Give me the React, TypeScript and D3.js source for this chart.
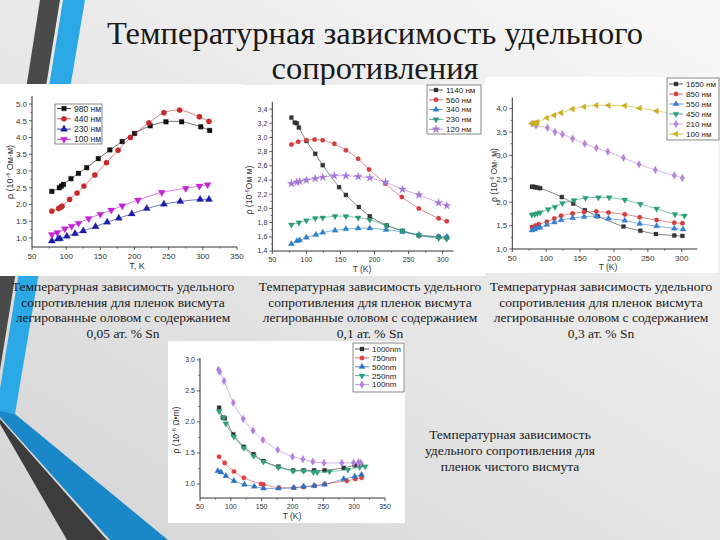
import React from 'react';
import * as d3 from 'd3';

// ---------- Titles / captions ----------
const titleLines = ['Температурная зависимость удельного', 'сопротивления'];
const caption1 = ['Температурная зависимость удельного', 'сопротивления для пленок висмута', 'легированные оловом с содержанием', '0,05 ат. % Sn'];
const caption2 = ['Температурная зависимость удельного', 'сопротивления для пленок висмута', 'легированные оловом с содержанием', '0,1 ат. % Sn'];
const caption3 = ['Температурная зависимость удельного', 'сопротивления для пленок висмута', 'легированные оловом с содержанием', '0,3 ат. % Sn'];
const caption4 = ['Температурная зависимость', 'удельного сопротивления для', 'пленок чистого висмута'];

// ---------- Chart 1: 0.05 at.% Sn ----------
const c1XTicks = [50, 100, 150, 200, 250, 300, 350];
const c1YTicks = [1.0, 1.5, 2.0, 2.5, 3.0, 3.5, 4.0, 4.5, 5.0];
const c1_980_T = [79, 90, 93, 96, 107, 118, 130, 147, 164, 182, 200, 223, 246, 269, 297, 310];
const c1_980_R = [2.39, 2.5, 2.55, 2.6, 2.77, 2.93, 3.1, 3.37, 3.63, 3.88, 4.12, 4.35, 4.47, 4.47, 4.32, 4.21];
const c1_440_T = [79, 89, 92, 94, 105, 116, 126, 142, 159, 176, 194, 221, 243, 266, 295, 309];
const c1_440_R = [1.8, 1.88, 1.92, 1.95, 2.15, 2.34, 2.55, 2.88, 3.25, 3.62, 4.0, 4.44, 4.74, 4.82, 4.62, 4.48];
const c1_230_T = [79, 88, 91, 101, 113, 125, 143, 160, 177, 196, 218, 243, 267, 296, 309];
const c1_230_R = [0.91, 0.97, 0.98, 1.05, 1.13, 1.21, 1.34, 1.47, 1.59, 1.72, 1.88, 2.01, 2.09, 2.15, 2.15];
const c1_100_T = [79, 87, 98, 108, 118, 133, 150, 166, 182, 205, 240, 275, 295, 307];
const c1_100_R = [1.1, 1.16, 1.27, 1.35, 1.44, 1.58, 1.71, 1.83, 1.96, 2.13, 2.36, 2.48, 2.55, 2.59];

// ---------- Chart 2: 0.1 at.% Sn ----------
const c2XTicks = [50, 100, 150, 200, 250, 300];
const c2YTicks = [1.4, 1.6, 1.8, 2.0, 2.2, 2.4, 2.6, 2.8, 3.0, 3.2, 3.4];
const c2_1140_T = [78, 83, 86, 89, 100, 113, 124, 148, 158, 177, 193, 218, 241, 265, 294, 306];
const c2_1140_R = [3.28, 3.21, 3.2, 3.14, 2.95, 2.77, 2.61, 2.3, 2.19, 2.02, 1.89, 1.76, 1.68, 1.62, 1.6, 1.59];
const c2_560_T = [78, 88, 100, 112, 124, 141, 158, 176, 192, 216, 240, 265, 294, 306];
const c2_560_R = [2.9, 2.94, 2.96, 2.97, 2.96, 2.91, 2.82, 2.7, 2.55, 2.35, 2.16, 2.0, 1.86, 1.82];
const c2_340_T = [78, 86, 90, 100, 114, 124, 142, 158, 176, 193, 217, 241, 265, 294, 306];
const c2_340_R = [1.5, 1.54, 1.55, 1.59, 1.63, 1.66, 1.69, 1.71, 1.72, 1.72, 1.7, 1.67, 1.63, 1.6, 1.6];
const c2_230_T = [78, 89, 100, 113, 124, 142, 158, 176, 193, 217, 241, 265, 294, 306];
const c2_230_R = [1.77, 1.8, 1.83, 1.86, 1.87, 1.89, 1.89, 1.87, 1.84, 1.76, 1.69, 1.62, 1.58, 1.57];
const c2_120_T = [78, 86, 90, 100, 113, 124, 141, 158, 176, 193, 216, 241, 265, 294, 306];
const c2_120_R = [2.35, 2.37, 2.38, 2.4, 2.42, 2.44, 2.46, 2.46, 2.45, 2.43, 2.37, 2.27, 2.19, 2.08, 2.04];

// ---------- Chart 3: 0.3 at.% Sn ----------
const c3XTicks = [50, 100, 150, 200, 250, 300];
const c3YTicks = [1.0, 1.5, 2.0, 2.5, 3.0, 3.5, 4.0];
const c3_1650_T = [79, 81, 84, 87, 91, 123, 140, 157, 176, 214, 239, 262, 289, 301];
const c3_1650_R = [2.33, 2.33, 2.32, 2.31, 2.3, 2.11, 1.97, 1.83, 1.7, 1.48, 1.39, 1.32, 1.29, 1.28];
const c3_850_T = [79, 84, 89, 101, 112, 122, 139, 156, 174, 192, 216, 238, 263, 289, 301];
const c3_850_R = [1.47, 1.5, 1.53, 1.58, 1.65, 1.71, 1.76, 1.79, 1.8, 1.78, 1.74, 1.68, 1.62, 1.56, 1.55];
const c3_550_T = [79, 83, 87, 91, 101, 112, 122, 139, 156, 174, 192, 216, 238, 263, 289, 302];
const c3_550_R = [1.4, 1.42, 1.45, 1.46, 1.52, 1.57, 1.62, 1.66, 1.69, 1.7, 1.65, 1.61, 1.54, 1.49, 1.44, 1.42];
const c3_450_T = [79, 83, 87, 91, 103, 113, 124, 141, 158, 177, 193, 216, 239, 263, 290, 304];
const c3_450_R = [1.73, 1.74, 1.76, 1.78, 1.85, 1.9, 1.98, 2.04, 2.09, 2.1, 2.1, 2.05, 1.96, 1.86, 1.74, 1.71];
const c3_210_T = [79, 85, 102, 113, 124, 139, 157, 174, 191, 214, 237, 261, 289, 301];
const c3_210_R = [3.68, 3.64, 3.59, 3.5, 3.45, 3.36, 3.25, 3.16, 3.08, 2.95, 2.81, 2.69, 2.57, 2.52];
const c3_100_T = [79, 82, 84, 87, 101, 112, 122, 139, 156, 174, 192, 216, 238, 263, 286, 300];
const c3_100_R = [3.68, 3.69, 3.7, 3.71, 3.8, 3.86, 3.91, 3.99, 4.04, 4.07, 4.07, 4.06, 4.01, 3.95, 3.9, 3.86];

// ---------- Chart 4: pure Bi ----------
const c4XTicks = [50, 100, 150, 200, 250, 300, 350];
const c4YTicks = [1.0, 1.5, 2.0, 2.5, 3.0];
const c4_1000_T = [81, 87, 90, 104, 121, 137, 153, 177, 201, 218, 235, 252, 283, 301, 311];
const c4_1000_R = [2.23, 2.07, 2.06, 1.8, 1.6, 1.48, 1.37, 1.28, 1.22, 1.22, 1.22, 1.22, 1.26, 1.3, 1.31];
const c4_750_T = [81, 90, 105, 121, 149, 153, 178, 202, 218, 236, 252, 288, 302, 312];
const c4_750_R = [1.44, 1.34, 1.2, 1.1, 1.0, 0.99, 0.94, 0.94, 0.95, 0.97, 1.0, 1.05, 1.08, 1.1];
const c4_500_T = [79, 84, 92, 105, 122, 138, 153, 177, 202, 218, 235, 252, 283, 301, 312];
const c4_500_R = [1.21, 1.19, 1.13, 1.05, 0.99, 0.96, 0.93, 0.93, 0.94, 0.96, 0.97, 0.99, 1.08, 1.12, 1.15];
const c4_250_T = [81, 88, 92, 105, 121, 137, 153, 177, 201, 218, 234, 240, 260, 290, 309, 318];
const c4_250_R = [2.17, 2.07, 1.97, 1.76, 1.58, 1.45, 1.36, 1.27, 1.21, 1.21, 1.19, 1.19, 1.2, 1.23, 1.27, 1.28];
const c4_100_T = [80, 82, 89, 104, 120, 136, 152, 176, 200, 217, 233, 251, 280, 299, 307, 311];
const c4_100_R = [2.84, 2.81, 2.66, 2.31, 2.05, 1.86, 1.71, 1.55, 1.44, 1.4, 1.36, 1.34, 1.34, 1.34, 1.35, 1.34];

type Series = { label: string; T: number[]; R: number[]; color: string; marker: string };

interface ChartCfg {
  box: [number, number, number, number];
  xDomain: [number, number];
  xRange: [number, number];
  yDomain: [number, number];
  yRange: [number, number];
  xTicks: number[];
  yTicks: number[];
  decimalComma: boolean;
  yDigits: number;
  tickFont: number;
  yLabel: React.ReactNode;
  yLabelPos: [number, number];
  xLabel: string;
  xLabelPos: [number, number];
  labelFont: number;
  legend: { x: number; y: number; w: number; h: number; row0: number; rowH: number; font: number };
  markerSize: number;
  series: Series[];
}

const sans = "'Liberation Sans', Arial, sans-serif";
const serif = "'Liberation Serif', 'Times New Roman', 'DejaVu Serif', serif";

function Marker({ kind, x, y, size, color }: { kind: string; x: number; y: number; size: number; color: string }) {
  let sym: d3.SymbolType = d3.symbolSquare;
  let rot = 0;
  let s = size;
  if (kind === 'circle') sym = d3.symbolCircle;
  else if (kind === 'up') sym = d3.symbolTriangle;
  else if (kind === 'down') { sym = d3.symbolTriangle; rot = 180; }
  else if (kind === 'left') { sym = d3.symbolTriangle; rot = -90; }
  else if (kind === 'diamond') { sym = d3.symbolDiamond; s = size * 1.1; }
  else if (kind === 'star') { sym = d3.symbolStar; s = size * 1.3; }
  const d = d3.symbol(sym, s)() || '';
  return <path d={d} transform={`translate(${x},${y}) rotate(${rot})`} fill={color} stroke={color} strokeWidth={0.3} />;
}

function Chart({ cfg }: { cfg: ChartCfg }) {
  const x = d3.scaleLinear().domain(cfg.xDomain).range(cfg.xRange);
  const y = d3.scaleLinear().domain(cfg.yDomain).range(cfg.yRange);
  const axisY = cfg.yRange[0];
  const axisX = cfg.xRange[0];
  const fmt = (v: number) => {
    const s = v.toFixed(cfg.yDigits);
    return cfg.decimalComma ? s.replace('.', ',') : s;
  };
  const line = d3.line<[number, number]>().x(d => x(d[0])).y(d => y(d[1])).curve(d3.curveCatmullRom.alpha(0.5));
  const xMinor = cfg.xTicks.slice(0, -1).map((t, i) => (t + cfg.xTicks[i + 1]) / 2);
  const yMinor = cfg.yTicks.slice(0, -1).map((t, i) => (t + cfg.yTicks[i + 1]) / 2);
  const lg = cfg.legend;
  const axisColor = '#333';
  return (
    <g>
      <rect x={cfg.box[0]} y={cfg.box[1]} width={cfg.box[2]} height={cfg.box[3]} fill="#fff" />
      {cfg.series.map((s, i) => {
        const pts: [number, number][] = s.T.map((t, j) => [t, s.R[j]]);
        return (
          <g key={i}>
            <path d={line(pts) || ''} fill="none" stroke={s.color} strokeWidth={0.8} strokeOpacity={0.75} />
            {pts.map((p, j) => (
              <Marker key={j} kind={s.marker} x={x(p[0])} y={y(p[1])} size={cfg.markerSize} color={s.color} />
            ))}
          </g>
        );
      })}
      <line x1={axisX} x2={cfg.xRange[1]} y1={axisY} y2={axisY} stroke={axisColor} strokeWidth={1} />
      <line x1={axisX} x2={axisX} y1={axisY} y2={cfg.yRange[1]} stroke={axisColor} strokeWidth={1} />
      {cfg.xTicks.map((t, i) => (
        <g key={'xt' + i}>
          <line x1={x(t)} x2={x(t)} y1={axisY} y2={axisY + 3} stroke={axisColor} strokeWidth={0.8} />
          <text x={x(t)} y={axisY + 4 + cfg.tickFont} fontSize={cfg.tickFont} textAnchor="middle" fill="#333" fontFamily={sans}>{t}</text>
        </g>
      ))}
      {xMinor.map((t, i) => (
        <line key={'xm' + i} x1={x(t)} x2={x(t)} y1={axisY} y2={axisY + 1.8} stroke={axisColor} strokeWidth={0.6} />
      ))}
      {cfg.yTicks.map((t, i) => (
        <g key={'yt' + i}>
          <line x1={axisX - 3} x2={axisX} y1={y(t)} y2={y(t)} stroke={axisColor} strokeWidth={0.8} />
          <text x={axisX - 5} y={y(t) + cfg.tickFont * 0.35} fontSize={cfg.tickFont} textAnchor="end" fill="#333" fontFamily={sans}>{fmt(t)}</text>
        </g>
      ))}
      {yMinor.map((t, i) => (
        <line key={'ym' + i} x1={axisX - 1.8} x2={axisX} y1={y(t)} y2={y(t)} stroke={axisColor} strokeWidth={0.6} />
      ))}
      <text transform={`translate(${cfg.yLabelPos[0]},${cfg.yLabelPos[1]}) rotate(-90)`} fontSize={cfg.labelFont} textAnchor="middle" fill="#333" fontFamily={sans}>{cfg.yLabel}</text>
      <text x={cfg.xLabelPos[0]} y={cfg.xLabelPos[1]} fontSize={cfg.labelFont} textAnchor="middle" fill="#333" fontFamily={sans}>{cfg.xLabel}</text>
      <rect x={lg.x} y={lg.y} width={lg.w} height={lg.h} fill="#fff" stroke="#555" strokeWidth={0.7} />
      {cfg.series.map((s, i) => {
        const ry = lg.y + lg.row0 + i * lg.rowH;
        return (
          <g key={'lg' + i}>
            <line x1={lg.x + 2} x2={lg.x + 16} y1={ry} y2={ry} stroke={s.color} strokeWidth={0.8} />
            <Marker kind={s.marker} x={lg.x + 9} y={ry} size={cfg.markerSize} color={s.color} />
            <text x={lg.x + 19} y={ry + lg.font * 0.36} fontSize={lg.font} fill="#222" fontFamily={sans}>{s.label}</text>
          </g>
        );
      })}
    </g>
  );
}

const chart1: ChartCfg = {
  box: [0, 84, 245, 192],
  xDomain: [50, 350], xRange: [32, 237],
  yDomain: [0.73, 5.24], yRange: [247, 96],
  xTicks: c1XTicks, yTicks: c1YTicks, decimalComma: false, yDigits: 1, tickFont: 8,
  yLabel: <>ρ (10<tspan dy={-3} fontSize={5}>−6</tspan><tspan dy={3}> Ом·м)</tspan></>,
  yLabelPos: [13, 172], xLabel: 'T, K', xLabelPos: [137, 269], labelFont: 9,
  legend: { x: 55, y: 104, w: 47, h: 40, row0: 4.5, rowH: 10.3, font: 8.5 },
  markerSize: 22,
  series: [
    { label: '980 нм', T: c1_980_T, R: c1_980_R, color: '#111111', marker: 'square' },
    { label: '440 нм', T: c1_440_T, R: c1_440_R, color: '#c42a2a', marker: 'circle' },
    { label: '230 нм', T: c1_230_T, R: c1_230_R, color: '#1c1ca8', marker: 'up' },
    { label: '100 нм', T: c1_100_T, R: c1_100_R, color: '#c424d4', marker: 'down' },
  ],
};

const chart2: ChartCfg = {
  box: [243, 85, 242, 191],
  xDomain: [50, 316], xRange: [272.3, 453.6],
  yDomain: [1.4, 3.5], yRange: [251, 102],
  xTicks: c2XTicks, yTicks: c2YTicks, decimalComma: true, yDigits: 1, tickFont: 7,
  yLabel: <>ρ (10<tspan dy={-3} fontSize={5}>−6</tspan><tspan dy={3}>Ом м)</tspan></>,
  yLabelPos: [252, 190], xLabel: 'T (K)', xLabelPos: [362, 272], labelFont: 8.5,
  legend: { x: 427, y: 85, w: 54, h: 49, row0: 5, rowH: 9.8, font: 8 },
  markerSize: 16,
  series: [
    { label: '1140 нм', T: c2_1140_T, R: c2_1140_R, color: '#333333', marker: 'square' },
    { label: '560 нм', T: c2_560_T, R: c2_560_R, color: '#d23c3c', marker: 'circle' },
    { label: '340 нм', T: c2_340_T, R: c2_340_R, color: '#2f7fc4', marker: 'up' },
    { label: '230 нм', T: c2_230_T, R: c2_230_R, color: '#2a9a78', marker: 'down' },
    { label: '120 нм', T: c2_120_T, R: c2_120_R, color: '#a479d8', marker: 'star' },
  ],
};

const chart3: ChartCfg = {
  box: [485, 77, 233, 196],
  xDomain: [50, 323], xRange: [512.3, 697.3],
  yDomain: [1.0, 4.24], yRange: [249, 97.4],
  xTicks: c3XTicks, yTicks: c3YTicks, decimalComma: true, yDigits: 1, tickFont: 8,
  yLabel: <>ρ (10<tspan dy={-3} fontSize={5}>−6</tspan><tspan dy={3}> Ом· м)</tspan></>,
  yLabelPos: [497, 175], xLabel: 'T (K)', xLabelPos: [608, 270], labelFont: 8.5,
  legend: { x: 667, y: 78, w: 52, h: 62, row0: 6, rowH: 10, font: 8 },
  markerSize: 16,
  series: [
    { label: '1650 нм', T: c3_1650_T, R: c3_1650_R, color: '#333333', marker: 'square' },
    { label: '850 нм', T: c3_850_T, R: c3_850_R, color: '#d43c3c', marker: 'circle' },
    { label: '550 нм', T: c3_550_T, R: c3_550_R, color: '#3a7fd0', marker: 'up' },
    { label: '450 нм', T: c3_450_T, R: c3_450_R, color: '#2aa07a', marker: 'down' },
    { label: '210 нм', T: c3_210_T, R: c3_210_R, color: '#b685d8', marker: 'diamond' },
    { label: '100 нм', T: c3_100_T, R: c3_100_R, color: '#c8b020', marker: 'left' },
  ],
};

const chart4: ChartCfg = {
  box: [168, 341, 237, 182],
  xDomain: [50, 350], xRange: [200, 385],
  yDomain: [0.774, 3.03], yRange: [498, 358],
  xTicks: c4XTicks, yTicks: c4YTicks, decimalComma: false, yDigits: 1, tickFont: 7,
  yLabel: <>ρ (10<tspan dy={-3} fontSize={5}>−6</tspan><tspan dy={3}> Ω•m)</tspan></>,
  yLabelPos: [179, 430], xLabel: 'T (K)', xLabelPos: [292, 519], labelFont: 8.5,
  legend: { x: 353, y: 343, w: 51, h: 49, row0: 6, rowH: 8.9, font: 8 },
  markerSize: 16,
  series: [
    { label: '1000nm', T: c4_1000_T, R: c4_1000_R, color: '#333333', marker: 'square' },
    { label: '750nm', T: c4_750_T, R: c4_750_R, color: '#e04040', marker: 'circle' },
    { label: '500nm', T: c4_500_T, R: c4_500_R, color: '#2f6fc2', marker: 'up' },
    { label: '250nm', T: c4_250_T, R: c4_250_R, color: '#2fa080', marker: 'down' },
    { label: '100nm', T: c4_100_T, R: c4_100_R, color: '#b080e0', marker: 'diamond' },
  ],
};

function Caption({ lines, cx, y0, dy, size }: { lines: string[]; cx: number; y0: number; dy: number; size: number }) {
  return (
    <g>
      {lines.map((l, i) => (
        <text key={i} x={cx} y={y0 + i * dy} fontSize={size} textAnchor="middle" fill="#1a1a1a" fontFamily={serif}>{l}</text>
      ))}
    </g>
  );
}

export default function App() {
  return (
    <svg width={720} height={540} style={{ position: 'absolute', left: 0, top: 0 }}>
      <defs>
        <linearGradient id="bg" x1="0.9" y1="0" x2="0.1" y2="1">
          <stop offset="0" stopColor="#f7f7f7" />
          <stop offset="1" stopColor="#d6d6d6" />
        </linearGradient>
      </defs>
      <rect x={0} y={0} width={720} height={540} fill="url(#bg)" />
      <polygon points="40,0 60,0 0,370 0,255" fill="#4a4a4a" />
      <polygon points="63,0 85,0 15,414 0,412 0,389" fill="#2ba8e6" />
      <polygon points="0,411 15,414 168,540 110,540 0,417" fill="#1a88c8" />
      <polygon points="0,419 107,540 67,540 0,424" fill="#3c3c3c" />
      <Caption lines={titleLines} cx={375} y0={44} dy={35} size={32.5} />
      <Chart cfg={chart2} />
      <Chart cfg={chart3} />
      <Chart cfg={chart1} />
      <Chart cfg={chart4} />
      <Caption lines={caption1} cx={123} y0={291} dy={15.5} size={13.5} />
      <Caption lines={caption2} cx={370} y0={291} dy={15.5} size={13.5} />
      <Caption lines={caption3} cx={601} y0={291} dy={15.5} size={13.5} />
      <Caption lines={caption4} cx={510} y0={439} dy={16} size={13.5} />
    </svg>
  );
}
